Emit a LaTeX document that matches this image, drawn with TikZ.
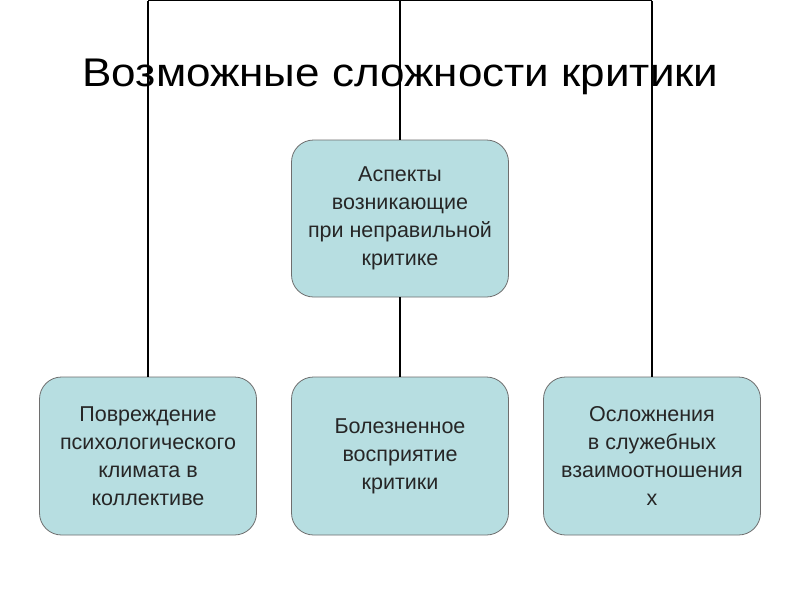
\documentclass[tikz,border=0pt]{standalone}
\usepackage{fontspec}
\usepackage{graphicx}
\setmainfont{Liberation Sans}
\definecolor{boxfill}{RGB}{183,222,225}
\definecolor{boxline}{RGB}{110,110,110}
\tikzset{
  box/.style={draw=boxline, line width=0.8pt, fill=boxfill, rounded corners=22pt,
    minimum width=217pt, minimum height=158pt, align=center, inner sep=4pt,
    font=\fontsize{21.5}{28}\selectfont, text=black!85},
  conn/.style={draw=black, line width=1.5pt}
}
\begin{document}
\begin{tikzpicture}[x=1pt,y=-1pt]
\useasboundingbox[fill=white] (0,0) rectangle (800,600);
\node[font=\fontsize{40}{46}\selectfont, anchor=base] (title) at (400.5,86.7) {\scalebox{1.1}[1]{Возможные сложности критики}};
\coordinate (tl) at (148,0.7);
\coordinate (tm) at (400,0.7);
\coordinate (tr) at (652,0.7);
\node[box, minimum height=157pt] (top) at (400,218.5) {Аспекты\\возникающие\\при неправильной\\критике};
\node[box] (left) at (148,456) {Повреждение\\психологического\\климата в\\коллективе};
\node[box] (mid) at (400,456) {Болезненное\\восприятие\\критики};
\node[box] (right) at (652,456) {Осложнения\\в служебных\\взаимоотношения\\х};
\draw[conn] (tl) -- (tr);
\draw[conn] (tl) -- (tl |- left.north);
\draw[conn] (tr) -- (tr |- right.north);
\draw[conn] (tm) -- (top.north);
\draw[conn] (top.south) -- (mid.north);
\end{tikzpicture}
\end{document}
